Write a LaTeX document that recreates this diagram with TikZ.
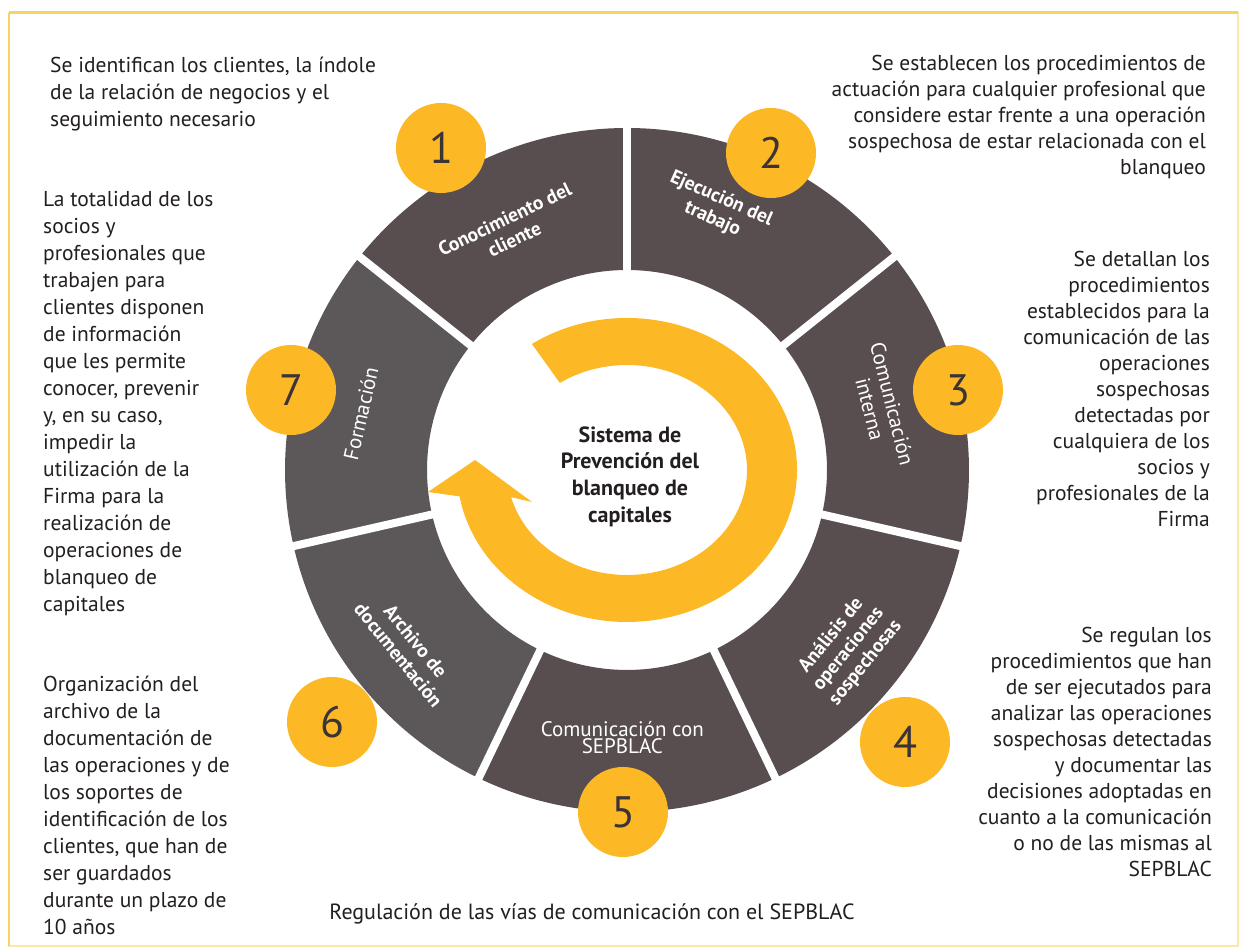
\documentclass[tikz,border=0pt]{standalone}
\usepackage{fontspec}
\setmainfont{PT Sans}
\definecolor{yel}{HTML}{FCB825}
\definecolor{segA}{HTML}{584D4F}
\definecolor{segB}{HTML}{5C5859}
\definecolor{txtc}{HTML}{231F20}
\definecolor{numtxt}{HTML}{3B3436}
\definecolor{framec}{HTML}{FAE8A8}
\definecolor{frametop}{HTML}{F6D365}
\tikzset{
  bodyL/.style={inner sep=0pt, anchor=north west, align=left, text=txtc, font=\fontsize{21.5}{27}\selectfont},
  bodyR/.style={inner sep=0pt, anchor=north east, align=right, text=txtc, font=\fontsize{21.5}{26}\selectfont},
  centretxt/.style={inner sep=0pt, anchor=north, align=center, text=txtc, font=\bfseries\fontsize{22}{26.7}\selectfont},
  numc/.style={circle, fill=yel, minimum size=90pt, inner sep=0pt, text=numtxt, font=\fontsize{44}{44}\selectfont},
  segb/.style={inner sep=0pt, align=center, text=white, font=\bfseries\fontsize{19.5}{22}\selectfont},
  segr/.style={inner sep=0pt, align=center, text=white, font=\fontsize{21}{23}\selectfont},
}
\begin{document}
\begin{tikzpicture}[x=1pt,y=1pt]
\useasboundingbox (0,0) rectangle (1242,950);
\fill[white] (0,0) rectangle (1242,950);
% frame
\draw[framec, line width=2pt] (9,4) rectangle (1238,937);
\draw[frametop, line width=3pt] (9,937) -- (1238,937);
\draw[frametop, line width=2.5pt] (9,4) -- (9,937);

\begin{scope}[shift={(627,480)}]
  % k=0: segment 2, k=1: 3, k=2: 4, k=3: 5, k=4: 6, k=5: 7, k=6: 1
  \foreach \k/\c in {0/segA,1/segA,2/segA,3/segA,4/segB,5/segB,6/segA} {
    \pgfmathsetmacro\e{90-51.4286*\k}
    \pgfmathsetmacro\s{\e-51.4286}
    \fill[\c] (\s:342) arc[start angle=\s, end angle=\e, radius=342] -- (\e:200) arc[start angle=\e, end angle=\s, radius=200] -- cycle;
  }
  \foreach \k in {0,...,6} {
    \pgfmathsetmacro\g{90-51.4286*\k}
    \draw[white, line width=8pt] (\g:196) -- (\g:346);
  }
  % circular arrow
  \fill[yel] (124:170 and 152) arc[start angle=124, end angle=-170, x radius=170, y radius=152]
     -- (-199,-22) -- (-152,10) -- (-95,-32)
     -- (-165:120 and 105) arc[start angle=-165, end angle=124, x radius=120, y radius=105] -- cycle;
  % segment labels
  \node[segb, rotate=25.7] (l1) at (116:268) {Conocimiento del\\cliente};
  \node[segb, rotate=-24] (l2) at (71:276) {Ejecución del\\trabajo};
  \node[segr, rotate=-76] (l3) at (14:262) {Comunicación\\interna};
  \node[segb, rotate=51] (l4) at (-39:285) {Análisis de\\operaciones\\sospechosas};
  \node[segr] (l5) at (-91:268) {Comunicación con\\[-6pt]SEPBLAC};
  \node[segb, rotate=-51] (l6) at (-141:283) {Archivo de\\documentación};
  \node[segr, rotate=77] (l7) at (168:272) {Formación};
\end{scope}

% centre title
\node[centretxt] (title) at (630,526.7) {\strut Sistema de\\Prevención del\\blanqueo de\\capitales};

% number circles
\node[numc] (n1) at (441,802) {1};
\node[numc] (n2) at (771,797) {2};
\node[numc] (n3) at (958,560) {3};
\node[numc] (n4) at (905,208) {4};
\node[numc] (n5) at (623,138) {5};
\node[numc] (n6) at (332,228) {6};
\node[numc] (n7) at (291,560) {7};

% descriptive texts
\node[bodyL] (t1) at (50,896.9) {\strut Se identifican los clientes, la índole\\de la relación de negocios y el\\seguimiento necesario};
\node[bodyR] (t2) at (1206,898.2) {\strut Se establecen los procedimientos de\\actuación para cualquier profesional que\\considere estar frente a una operación\\sospechosa de estar relacionada con el\\blanqueo};
\node[bodyR] (t3) at (1210,702.2) {\strut Se detallan los\\procedimientos\\establecidos para la\\comunicación de las\\operaciones\\sospechosas\\detectadas por\\cualquiera de los\\socios y\\profesionales de la\\Firma};
\node[bodyR] (t4) at (1212,326.2) {\strut Se regulan los\\procedimientos que han\\de ser ejecutados para\\analizar las operaciones\\sospechosas detectadas\\y documentar las\\decisiones adoptadas en\\cuanto a la comunicación\\o no de las mismas al\\SEPBLAC};
\node[bodyL] (t7) at (43,762.9) {\strut La totalidad de los\\socios y\\profesionales que\\trabajen para\\clientes disponen\\de información\\que les permite\\conocer, prevenir\\y, en su caso,\\impedir la\\utilización de la\\Firma para la\\realización de\\operaciones de\\blanqueo de\\capitales};
\node[bodyL] (t6) at (43,277.9) {\strut Organización del\\archivo de la\\documentación de\\las operaciones y de\\los soportes de\\identificación de los\\clientes, que han de\\ser guardados\\durante un plazo de\\10 años};
\node[inner sep=0pt, anchor=base, text=txtc, font=\fontsize{22}{27}\selectfont] (t5) at (592,30) {Regulación de las vías de comunicación con el SEPBLAC};
\end{tikzpicture}
\end{document}
